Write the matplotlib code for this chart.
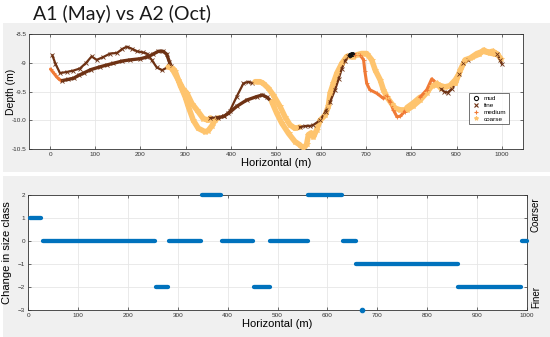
import numpy as np
import matplotlib
matplotlib.use("Agg")
import matplotlib.pyplot as plt
from matplotlib.patches import Rectangle

plt.rcParams["font.family"] = ["Liberation Sans", "DejaVu Sans"]

# ---------------- data: top panel (two surveys, depth profiles) ----------------
# trace A
a_x = [5, 12, 22, 37, 50, 66, 80, 92, 103, 118, 133, 148, 160, 170, 182, 192, 205, 214, 225, 236, 248,
       262, 270, 284, 294, 303, 314, 325, 339, 350,
       355, 370, 385, 398, 413, 428, 439, 446,
       454, 465, 472, 483, 494, 509, 520, 531, 542,
       553, 565, 575, 583, 598, 610, 620, 631, 639, 646, 653, 660,
       664, 668,
       675, 686, 694, 697, 701, 708, 723, 738, 745, 753, 760, 768, 775, 785,
       790, 804,
       819, 834, 845,
       856,
       866, 872, 880, 890,
       897, 908, 919, 930, 945, 959, 974, 985,
       990, 996, 1000]
a_d = [-8.87, -9.02, -9.18, -9.16, -9.14, -9.10, -9.00, -8.89, -8.95, -8.90, -8.84, -8.83, -8.76, -8.72, -8.76, -8.80, -8.82, -8.84, -8.95, -9.08, -9.13,
       -9.07, -9.10, -9.30, -9.45, -9.53, -9.71, -9.82, -9.97, -10.00,
       -9.96, -9.95, -9.93, -9.84, -9.59, -9.36, -9.33, -9.35,
       -9.33, -9.33, -9.36, -9.44, -9.56, -9.76, -9.94, -10.08, -10.14,
       -10.12, -10.10, -10.10, -10.08, -10.00, -9.85, -9.68, -9.47, -9.28, -9.10, -8.97, -8.88,
       -8.86, -8.85,
       -8.86, -8.86, -8.95, -9.15, -9.36, -9.47, -9.53, -9.62, -9.58, -9.68, -9.82, -9.94, -9.93, -9.85,
       -9.78, -9.70,
       -9.60, -9.47, -9.28,
       -9.36,
       -9.45, -9.50, -9.52, -9.45,
       -9.36, -9.13, -8.95, -8.92, -8.84, -8.80, -8.83, -8.85,
       -8.85, -8.95, -9.02]
a_c = (["fine"] * 21 + ["coarse"] * 9 + ["fine"] * 8 + ["coarse"] * 9 + ["fine"] * 12 +
       ["mud"] * 2 + ["medium"] * 14 + ["coarse"] * 2 + ["medium"] * 3 + ["coarse"] +
       ["fine"] * 4 + ["coarse"] * 8 + ["fine"] * 3)

# trace B
b_x = [1, 8, 15, 22,
       27, 40, 52, 63, 74, 90, 111, 125, 140, 160, 177, 200, 215, 228, 240, 250, 258, 264, 268,
       272, 277, 288, 299, 306, 317, 328, 343, 350, 358, 365,
       372, 385, 395, 413, 435, 457, 470, 480,
       491, 502, 513, 528, 542, 553, 561, 568, 572, 578, 583, 590, 598, 609, 616, 620, 627, 635, 646, 657,
       671, 680, 690, 701, 712, 720, 731, 738, 746, 756, 764, 775, 790, 804, 819, 834, 845, 856, 865, 874, 885, 897,
       905, 915, 925,
       935, 950, 960, 970, 980, 990, 998]
b_d = [-9.11, -9.18, -9.25, -9.30,
       -9.31, -9.29, -9.27, -9.22, -9.18, -9.12, -9.07, -9.04, -9.01, -8.97, -8.95, -8.93, -8.90, -8.85, -8.80, -8.80, -8.85, -8.98, -9.06,
       -9.10, -9.15, -9.39, -9.59, -9.76, -10.00, -10.14, -10.20, -10.18, -10.10, -10.00,
       -9.96, -9.93, -9.88, -9.76, -9.65, -9.59, -9.56, -9.60,
       -9.68, -9.88, -10.05, -10.23, -10.37, -10.43, -10.49, -10.42, -10.25, -10.22, -10.29, -10.17, -10.00, -9.91, -9.76, -9.53, -9.36, -9.18, -9.01, -8.89,
       -8.90, -8.86, -8.84, -8.84, -8.95, -9.13, -9.30, -9.47, -9.60, -9.71, -9.79, -9.82, -9.82, -9.75, -9.65, -9.52, -9.40, -9.38, -9.40, -9.42, -9.40, -9.30,
       -9.20, -9.00, -8.95,
       -8.90, -8.85, -8.78, -8.82, -8.80, -8.85, -8.93]
b_c = (["medium"] * 4 + ["fine"] * 19 + ["coarse"] * 11 + ["fine"] * 8 +
       ["coarse"] * 20 + ["coarse"] * 22 + ["fine"] * 3 + ["coarse"] * 7)

classes = ["mud", "fine", "medium", "coarse"]

# ---------------- data: bottom panel (change in size class) ----------------
seg_start = [3, 30, 256, 282, 348, 388, 452, 485, 561, 632, 658, 862, 990]
seg_end = [26, 255, 281, 347, 387, 451, 484, 560, 630, 658, 861, 987, 999]
seg_value = [1, 0, -2, 0, 2, 0, -2, 0, 2, 0, -1, -2, 0]
single_x = [669]
single_value = [-3]

# ---------------- styling ----------------
style = {
    "mud": dict(color="#111111", marker="o", ms=3.0, lw=2.6),
    "fine": dict(color="#6e3214", marker="x", ms=2.8, lw=2.4),
    "medium": dict(color="#f07a36", marker="+", ms=3.0, lw=2.2),
    "coarse": dict(color="#fec46e", marker="*", ms=4.0, lw=4.0),
}
blue = "#0072BD"
grid_c = "#e6e6e6"

fig = plt.figure(figsize=(5.5, 3.37), dpi=100)
fig.patch.set_facecolor("white")
# gray panels behind each plot
fig.add_artist(Rectangle((3 / 550, 1 - 172 / 337), 547 / 550, 149 / 337,
                         transform=fig.transFigure, facecolor="#f0f0f0", edgecolor="none", zorder=0))
fig.add_artist(Rectangle((3 / 550, 0), 547 / 550, 1 - 176 / 337,
                         transform=fig.transFigure, facecolor="#f0f0f0", edgecolor="none", zorder=0))

fig.text(33 / 550, 1 - 14 / 337, "A1 (May) vs A2 (Oct)", fontsize=14, fontweight="normal",
         family=["Lato", "DejaVu Sans"], va="center", ha="left", color="#1a1a1a")


def style_ax(ax):
    ax.set_facecolor("white")
    ax.grid(True, color=grid_c, lw=0.6)
    ax.set_axisbelow(True)
    ax.tick_params(direction="in", length=2.5, width=0.5, labelsize=4.6, colors="#333333",
                   top=True, right=True, pad=2)
    for s in ax.spines.values():
        s.set_color("#333333")
        s.set_linewidth(0.6)


def draw_trace(ax, xs, ds, cs, fine_lw=None):
    n = len(xs)
    i = 0
    while i < n:
        j = i
        while j + 1 < n and cs[j + 1] == cs[i]:
            j += 1
        st = style[cs[i]]
        lw = st["lw"]
        if cs[i] == "fine" and fine_lw is not None:
            lw = fine_lw
        end = min(j + 1, n - 1)
        ax.plot(xs[i:end + 1], ds[i:end + 1], color=st["color"], lw=lw,
                solid_capstyle="round", solid_joinstyle="round", zorder=2)
        ax.plot(xs[i:j + 1], ds[i:j + 1], ls="none", marker=st["marker"], ms=st["ms"],
                color=st["color"], mew=0.6, zorder=3)
        i = j + 1


# ---------------- top axes ----------------
ax1 = fig.add_axes([29.3 / 550, 1 - 149 / 337, (523 - 29.3) / 550, 115 / 337])
style_ax(ax1)
draw_trace(ax1, b_x, b_d, b_c)
draw_trace(ax1, a_x, a_d, a_c, fine_lw=1.6)
ax1.set_xlim(-46, 1047)
ax1.set_ylim(-10.5, -8.5)
ax1.set_xticks(np.arange(0, 1001, 100))
ax1.set_yticks([-10.5, -10, -9.5, -9, -8.5])
ax1.set_yticklabels(["-10.5", "-10.0", "-9.5", "-9", "-8.5"])
ax1.set_ylabel("Depth (m)", fontsize=7.5, va="center")
ax1.yaxis.set_label_coords((11 - 29.3) / 493.7, 0.5)
ax1.set_xlabel("Horizontal (m)", fontsize=8, labelpad=1)

handles = []
for c in classes:
    st = style[c]
    h, = ax1.plot([], [], ls="none", marker=st["marker"], ms=3,
                  color=st["color"], mfc="none" if c == "mud" else st["color"], mew=0.8, label=c)
    handles.append(h)
leg = ax1.legend(handles=handles, loc="upper left", bbox_to_anchor=(0.885, 0.515), fontsize=4.6,
                 frameon=True, fancybox=False, edgecolor="#333333", borderpad=0.45,
                 handletextpad=0.6, labelspacing=0.2, handlelength=1.2)
leg.get_frame().set_linewidth(0.6)

# ---------------- bottom axes ----------------
ax2 = fig.add_axes([28.2 / 550, 1 - 310 / 337, (527 - 28.2) / 550, 115 / 337])
style_ax(ax2)
for s0, s1, v in zip(seg_start, seg_end, seg_value):
    ax2.plot([s0, s1], [v, v], color=blue, lw=3.1, solid_capstyle="round", zorder=3, clip_on=False)
ax2.plot(single_x, single_value, ls="none", marker="o", ms=3.2, color=blue,
         mec=blue, mew=0.8, zorder=3, clip_on=False)
ax2.set_xlim(0, 1000)
ax2.set_ylim(-3, 2)
ax2.set_xticks(np.arange(0, 1001, 100))
ax2.set_yticks([-3, -2, -1, 0, 1, 2])
ax2.set_ylabel("Change in size class", fontsize=8, labelpad=4)
ax2.set_xlabel("Horizontal (m)", fontsize=8, labelpad=1)
ax2.text(1.008, 0.83, "Coarser", transform=ax2.transAxes, rotation=90, fontsize=7,
         va="center", ha="left")
ax2.text(1.008, 0.11, "Finer", transform=ax2.transAxes, rotation=90, fontsize=7,
         va="center", ha="left")

fig.savefig("out.png", dpi=100, facecolor=fig.get_facecolor())
